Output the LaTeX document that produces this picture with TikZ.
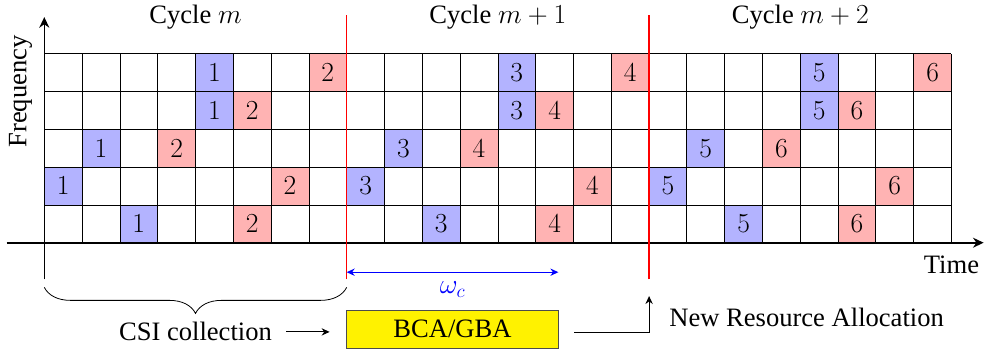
\documentclass[tikz,border=0pt]{standalone}
\usepackage[no-math]{fontspec}
\setmainfont{Liberation Serif}
\usetikzlibrary{arrows.meta,decorations.pathreplacing}
\definecolor{cellblue}{HTML}{B3B3FF}
\definecolor{cellred}{HTML}{FFB3B3}

\tikzset{
  bluecell/.style={fill=cellblue,minimum size=1cm,inner sep=0pt},
  redcell/.style={fill=cellred,minimum size=1cm,inner sep=0pt},
  lbl/.style={inner sep=0pt}
}

\begin{document}
\begin{tikzpicture}[font=\fontsize{20}{24}\selectfont,>={Stealth[length=6pt,width=5.5pt]}]
\useasboundingbox (-1.172,-2.865) rectangle (24.913,6.421);

%========================
% Celle occupate
%========================

\foreach \c in {0,1,2}
{
    \pgfmathtruncatemacro{\nb}{2*\c+1}
    \pgfmathtruncatemacro{\nr}{2*\c+2}
    \foreach \x/\y in {4/4,4/3,1/2,0/1,2/0}
        \node[bluecell] (b\c-\x-\y) at (8*\c+\x+0.5,\y+0.5) {$\nb$};
    \foreach \x/\y in {7/4,5/3,3/2,6/1,5/0}
        \node[redcell] (r\c-\x-\y) at (8*\c+\x+0.5,\y+0.5) {$\nr$};
}

% griglia
\draw[line width=0.6pt] (0,0) grid (24,5);

%========================
% Assi
%========================

\draw[line width=1.2pt,-{Stealth[length=8pt,width=7.5pt]}] (-1,0) -- (24.85,0);
\draw[line width=1.2pt,-{Stealth[length=8pt,width=7.5pt]}] (0,-0.97) -- (0,5.97);

\node[rotate=90] (freq) at (-0.63,4) {Frequency};
\node[anchor=base] (time) at (24,-0.81) {Time};

% etichette cicli
\node[anchor=base] (cyc0) at (4,5.80) {Cycle $m$};
\node[anchor=base] (cyc1) at (12,5.80) {Cycle $m+1$};
\node[anchor=base] (cyc2) at (20,5.80) {Cycle $m+2$};

% separatori
\draw[red,line width=1.2pt] (8,-0.97) -- (8,6.02);
\draw[red,line width=1.2pt] (16,-0.97) -- (16,6.02);

%========================
% Parte inferiore
%========================

% finestra omega_c
\coordinate (wl) at (8,-0.78);
\coordinate (wr) at (13.6,-0.78);
\draw[blue,line width=0.8pt,<->] (wl) -- (wr);
\node[blue,anchor=base] (omega) at (10.8,-1.34) {$\omega_c$};

% graffa
\draw[semithick,decorate,decoration={brace,mirror,amplitude=0.69cm}]
(0,-1.18) -- (8,-1.18);

% blocchi
\node[lbl,anchor=base] (csi) at (4,-2.60) {CSI collection};
\node[draw=black!70,fill=yellow,minimum width=5.61cm,minimum height=1.01cm]
(alloc) at (10.8,-2.29) {BCA/GBA};
\node[lbl,anchor=base west] (newres) at (16.53,-2.22) {New Resource Allocation};
\coordinate (newtip) at (16,-1.41);

% frecce
\draw[line width=0.8pt,->,shorten <=0.37cm,shorten >=0.44cm]
(csi.east) -- (csi.east -| alloc.west);
\draw[line width=0.8pt,->] ([xshift=0.41cm,yshift=-0.09cm]alloc.east) -| (newtip);
\end{tikzpicture}
\end{document}
